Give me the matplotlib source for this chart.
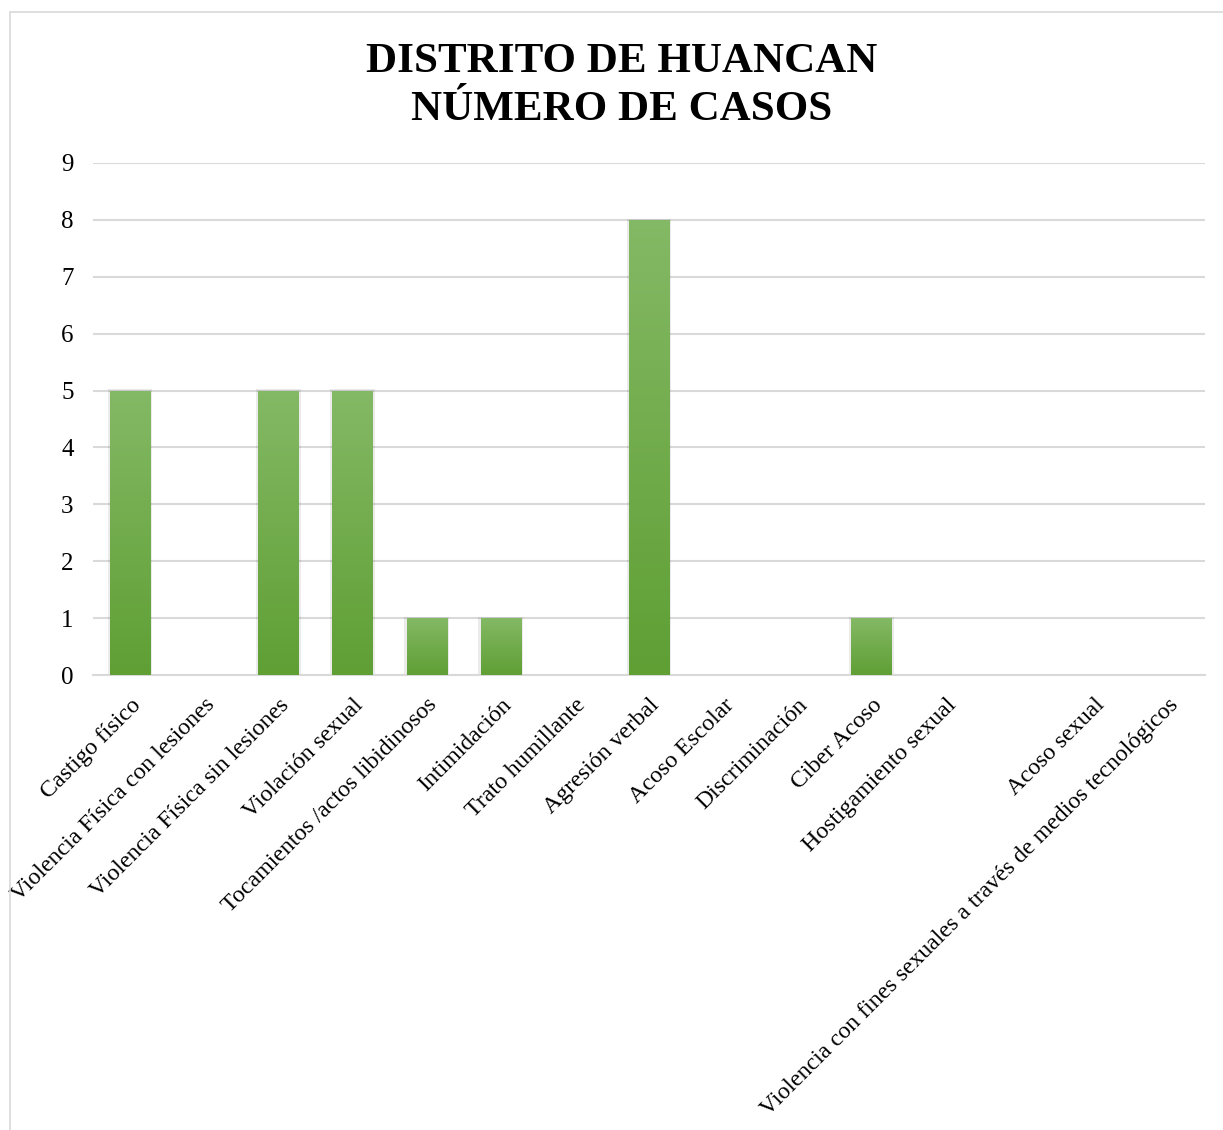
import numpy as np
import matplotlib
matplotlib.use('Agg')
from matplotlib import pyplot as plt
from matplotlib.patches import Rectangle

plt.rcParams['font.family'] = ['Liberation Serif', 'DejaVu Serif']

categorias = ['Castigo físico', 'Violencia Física con lesiones', 'Violencia Física sin lesiones',
              'Violación sexual', 'Tocamientos /actos libidinosos', 'Intimidación',
              'Trato humillante', 'Agresión verbal', 'Acoso Escolar', 'Discriminación',
              'Ciber Acoso', 'Hostigamiento sexual', '', 'Acoso sexual',
              'Violencia con fines sexuales a través de medios tecnológicos']
casos = [5, 0, 5, 5, 1, 1, 0, 8, 0, 0, 1, 0, 0, 0, 0]

fig = plt.figure(figsize=(12.23, 11.3), dpi=100)
# light chart border
fig.patches.append(Rectangle((10/1223, -0.01), 1.1, (1130-12)/1130 + 0.01, transform=fig.transFigure,
                             fill=False, edgecolor='#d9d9d9', lw=1.2))
ax = fig.add_axes([93/1223, 455/1130, 1112/1223, 512/1130])

x = np.arange(len(categorias))
bars = ax.bar(x, casos, width=0.54, color='none', zorder=3)
grad = np.linspace(0, 1, 256).reshape(-1, 1)
cmap = matplotlib.colors.LinearSegmentedColormap.from_list('g', ['#5f9f34', '#84b965'])
for b, v in zip(bars, casos):
    if v <= 0:
        continue
    x0 = b.get_x()
    w = b.get_width()
    # soft shadow
    ax.add_patch(Rectangle((x0 - 0.03, 0), w + 0.06, v + 0.02, facecolor='#000000', alpha=0.08,
                           edgecolor='none', zorder=2.5))
    im = ax.imshow(grad, extent=(x0, x0 + w, 0, v), origin='lower', aspect='auto',
                   cmap=cmap, zorder=3)
    im.set_clip_path(b)

ax.set_xlim(-0.5, len(categorias) - 0.5)
ax.set_ylim(0, 9)
ax.set_yticks(range(0, 10))
ax.yaxis.grid(True, color='#d9d9d9', lw=1.5)
ax.set_axisbelow(True)
for s in ['top', 'right', 'left']:
    ax.spines[s].set_visible(False)
ax.spines['bottom'].set_color('#d9d9d9')
ax.spines['bottom'].set_linewidth(1.5)
ax.tick_params(axis='y', length=0, labelsize=18, pad=14)
ax.tick_params(axis='x', length=0, labelsize=17.2, pad=14)
ax.set_xticks(x)
ax.set_xticklabels(categorias, rotation=45, ha='right', va='top', rotation_mode='anchor')
for lbl in ax.get_xticklabels():
    lbl.set_x(lbl.get_position()[0] + 0.14)

fig.text(0.508, 0.924, 'DISTRITO DE HUANCAN\nNÚMERO DE CASOS', ha='center', va='center',
         fontsize=31, fontweight='bold', linespacing=1.32)

fig.savefig('out.png', dpi=100)
